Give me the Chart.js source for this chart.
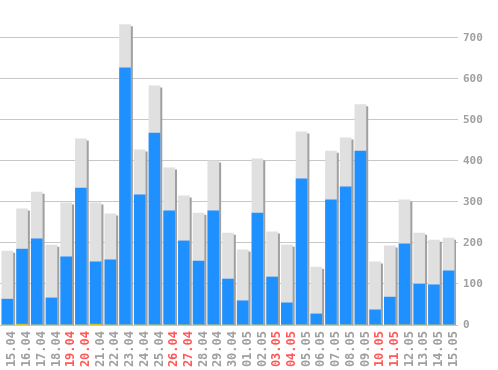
<!DOCTYPE html>
<html>
<head>
<meta charset="utf-8">
<script src="https://cdn.jsdelivr.net/npm/chart.js@4/dist/chart.umd.min.js"></script>
<style>
  body { margin: 0; background: #fff; }
  #wrap { width: 498px; height: 370px; }
</style>
</head>
<body>
<div id="wrap"><canvas id="myChart"></canvas></div>
<script>
const days = ["15.04","16.04","17.04","18.04","19.04","20.04","21.04","22.04","23.04","24.04","25.04","26.04","27.04","28.04","29.04","30.04","01.05","02.05","03.05","04.05","05.05","06.05","07.05","08.05","09.05","10.05","11.05","12.05","13.05","14.05","15.05"];
const weekend = ["19.04","20.04","26.04","27.04","03.05","04.05","10.05","11.05"];
const totals = [180,283,324,195,298,454,298,271,732,427,583,383,315,273,400,224,183,405,227,195,471,141,424,456,537,154,193,305,224,207,212];
const blueVals = [63,185,210,66,166,334,154,159,627,317,468,278,205,156,278,112,59,273,117,54,356,27,305,337,424,37,68,198,100,98,132];
const yellowVals = [0,2,0,0,0,0,2,0,0,0,0,0,0,0,0,0,0,0,0,0,0,0,0,0,0,0,0,0,0,0,0];
const yTicks = [0,100,200,300,400,500,600,700];

// grey bars get a hard drop shadow
const shadowPlugin = {
  id: "shadow",
  beforeDatasetDraw(chart, args) {
    if (args.index !== 0) return;
    const ctx = chart.ctx;
    ctx.save();
    ctx.shadowColor = "#a0a0a0";
    ctx.shadowOffsetX = 2;
    ctx.shadowOffsetY = 2;
    ctx.shadowBlur = 0;
  },
  afterDatasetDraw(chart, args) {
    if (args.index !== 0) return;
    chart.ctx.restore();
  }
};

new Chart("myChart", {
  type: "bar",
  data: {
    labels: days,
    datasets: [
      { data: totals, backgroundColor: "#e0e0e0", order: 3 },
      { data: blueVals, backgroundColor: "#1e90ff", order: 2 },
      { data: yellowVals, backgroundColor: "#f5c800", order: 1 }
    ]
  },
  options: {
    responsive: true,
    maintainAspectRatio: false,
    animation: false,
    grouped: false,
    barThickness: 11,
    layout: { padding: { left: -3, top: 5, right: 0, bottom: 0 } },
    plugins: { legend: { display: false }, tooltip: { enabled: false } },
    scales: {
      x: {
        grid: { display: false, drawTicks: false },
        border: { display: false },
        afterFit(scale) {
          scale.height = 45;
          scale.paddingLeft = 0;
          scale.paddingRight = 0;
        },
        ticks: {
          minRotation: 90,
          maxRotation: 90,
          autoSkip: false,
          padding: 6,
          labelOffset: 5,
          font: { family: "DejaVu Sans Mono", size: 12, weight: "bold" },
          color: (c) => weekend.includes(days[c.index]) ? "#ff5a5a" : "#a0a0a0"
        }
      },
      y: {
        position: "right",
        min: 0,
        max: 780,
        afterBuildTicks(scale) { scale.ticks = yTicks.map((v) => ({ value: v })); },
        afterFit(scale) {
          scale.width = 42;
          scale.paddingTop = 0;
          scale.paddingBottom = 0;
        },
        grid: { color: "#c8c8c8", lineWidth: 1, tickLength: 2 },
        border: { display: false },
        ticks: {
          padding: 5,
          color: "#a0a0a0",
          font: { family: "DejaVu Sans Mono", size: 11, weight: "bold" }
        }
      }
    }
  },
  plugins: [shadowPlugin]
});
</script>
</body>
</html>
